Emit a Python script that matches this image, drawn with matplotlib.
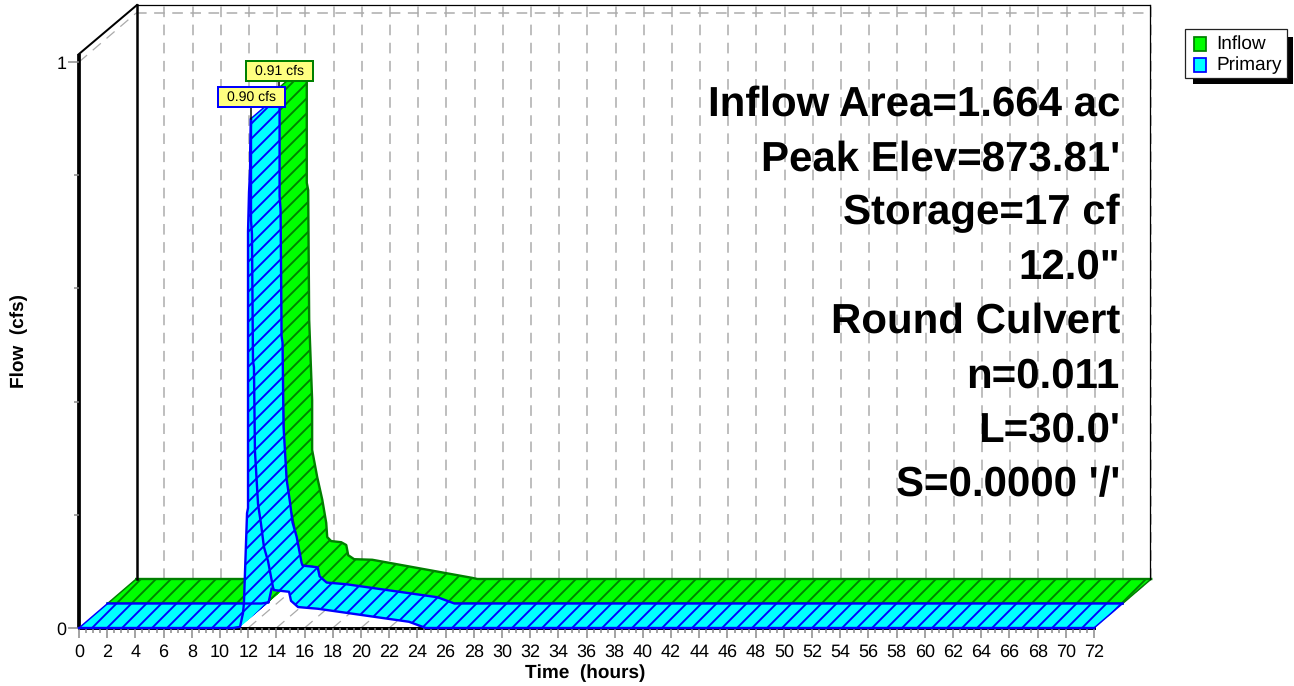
import matplotlib
matplotlib.use('Agg')
import matplotlib.pyplot as plt
from matplotlib.path import Path
from matplotlib.patches import PathPatch, Rectangle
from matplotlib.transforms import Affine2D
from matplotlib.lines import Line2D
import numpy as np

# hydrograph values
inflow_t = [0, 10.9, 11.4, 11.6, 11.7, 11.9, 12.0, 12.06, 12.1, 12.1, 12.2, 12.27, 12.48, 12.48, 12.84, 13.2,
            13.48, 13.55, 13.83, 14.54, 14.9, 15.04, 15.46, 16.74, 23.83, 24.2, 72]
inflow_q = [0, 0, 0.002, 0.026, 0.044, 0.2, 0.7, 0.8, 0.91, 0.70, 0.687, 0.458, 0.316, 0.228, 0.18, 0.14,
            0.099, 0.074, 0.067, 0.065, 0.06, 0.042, 0.035, 0.034, 0.002, 0, 0]
primary_t = [0, 10.92, 11.42, 11.63, 11.7, 11.92, 11.99, 11.99, 12.06, 12.13, 12.2, 12.2, 12.27, 12.34, 12.41,
             12.48, 12.7, 12.91, 13.12, 13.41, 13.76, 13.83, 14.9, 15.04, 15.54, 16.95, 23.41, 24.6, 72]
primary_q = [0, 0, 0.002, 0.026, 0.044, 0.203, 0.212, 0.7, 0.77, 0.806, 0.90, 0.72, 0.696, 0.472, 0.461,
             0.313, 0.219, 0.184, 0.143, 0.118, 0.072, 0.067, 0.064, 0.048, 0.037, 0.034, 0.011, 0, 0]
inflow_peak = 0.91
primary_peak = 0.90
x_ticks = list(range(0, 73, 2))
info_lines = ["Inflow Area=1.664 ac", "Peak Elev=873.81'", "Storage=17 cf", '12.0"',
              "Round Culvert", "n=0.011", "L=30.0'", "S=0.0000 '/'"]

plt.rcParams['font.family'] = ['Liberation Sans', 'DejaVu Sans']
plt.rcParams['hatch.linewidth'] = 1.5
plt.rcParams['lines.scale_dashes'] = False
plt.rcParams['text.hinting'] = 'none'
plt.rcParams['text.hinting_factor'] = 1

W, H, DPI = 1294, 686, 90
fig = plt.figure(figsize=(W / DPI, H / DPI), dpi=DPI)
ax = fig.add_axes([79 / W, (H - 628) / H, (1094 - 79) / W, (628 - 62) / H])
ax.set_xlim(0, 72)
ax.set_ylim(0, 1)
ax.patch.set_alpha(0)

# pixel coordinates, top-left origin like the picture
px = Affine2D().scale(1, -1).translate(0, H)

# one depth step in data units
dx = 28.6 / (1015 / 72)
dy = 24.5 / 566
GRID = '#aaaaaa'
DASH = (0, (8.5, 6))
TOP = 1.014

# back wall frame and left wall
for x0, y0, x1, y1, lw in [(137, 5, 1150, 5, 1.0), (1150, 5, 1150, 579, 1.0), (137, 5, 137, 579, 2.0),
                           (79, 54, 137, 5, 1.6)]:
    fig.add_artist(Line2D([x0, x1], [y0, y1], transform=px, color='black', lw=lw, zorder=1))
ax.plot([0, 0], [0, TOP], color='black', lw=3.0, clip_on=False, zorder=1.5, solid_capstyle='butt')

# grid on the wall and floor
for t in x_ticks[1:]:
    ax.plot([t + 2 * dx, t + 2 * dx], [2 * dy, TOP + 2 * dy], color=GRID, lw=1.2, ls=DASH, clip_on=False, zorder=1)
    ax.plot([t, t + 2 * dx], [0, 2 * dy], color=GRID, lw=1.0, ls=DASH, clip_on=False, zorder=1)
ax.plot([2 * dx, 72 + 2 * dx], [1 + 2 * dy, 1 + 2 * dy], color=GRID, lw=1.2, ls=DASH, clip_on=False, zorder=1)
ax.plot([0, 2 * dx], [1, 1 + 2 * dy], color=GRID, lw=1.0, ls=DASH, clip_on=False, zorder=1)


def ribbon(t, q, depth, fill, edge, z):
    t = np.array(t, dtype=float)
    q = np.array(q, dtype=float)
    verts, codes = [], []
    fx, fy = t + depth * dx, q + depth * dy
    bx, by = fx + dx, fy + dy
    for i in range(len(t) - 1):
        quad = [(fx[i], fy[i]), (fx[i + 1], fy[i + 1]), (bx[i + 1], by[i + 1]), (bx[i], by[i])]
        xs, ys = zip(*quad)
        area = sum(xs[k] * ys[(k + 1) % 4] - xs[(k + 1) % 4] * ys[k] for k in range(4))
        if area < 0:
            quad = quad[::-1]
        verts += quad + [quad[0]]
        codes += [Path.MOVETO, Path.LINETO, Path.LINETO, Path.LINETO, Path.CLOSEPOLY]
    ax.add_patch(PathPatch(Path(verts, codes), facecolor=fill, edgecolor=edge, hatch='//', lw=0,
                           clip_on=False, zorder=z))
    # outline: whole front curve, back curve without the hidden part of the rise
    pk = int(np.argmax(q))
    ax.plot(fx, fy, color=edge, lw=1.9, clip_on=False, zorder=z + 0.1)
    ax.plot(bx[:4], by[:4], color=edge, lw=1.9, clip_on=False, zorder=z + 0.1)
    ax.plot(bx[pk:], by[pk:], color=edge, lw=1.9, clip_on=False, zorder=z + 0.1)
    for i in (0, pk, len(t) - 1):
        ax.plot([fx[i], bx[i]], [fy[i], by[i]], color=edge, lw=1.2, clip_on=False, zorder=z + 0.1)


ribbon(inflow_t, inflow_q, 1, '#00ff00', '#008000', 3)
ribbon(primary_t, primary_q, 0, '#00ffff', '#0000ff', 4)

# axes
for s in ['top', 'right']:
    ax.spines[s].set_visible(False)
ax.spines['left'].set_visible(False)
ax.spines['bottom'].set_linewidth(2.4)
ax.spines['bottom'].set_zorder(1.5)
ax.set_xticks(x_ticks)
ax.set_xticks(np.arange(0, 72.1, 0.5), minor=True)
ax.set_yticks([0, 1])
ax.set_yticks([0.2, 0.4, 0.6, 0.8], minor=True)
ax.set_yticklabels(['0', '1'])
ax.tick_params(axis='x', which='major', length=8, width=1.2, color='#888888', labelsize=14, pad=15.2)
ax.tick_params(axis='x', which='minor', length=4, width=1.2, color='#888888')
ax.tick_params(axis='y', which='major', length=9, width=1.2, color='#888888', labelsize=14, pad=1)
ax.tick_params(axis='y', which='minor', length=4, width=1.2, color='#888888')
for lab in ax.get_xticklabels():
    lab.set_verticalalignment('baseline')

fig.text(585 / W, 1 - 678 / H, 'Time  (hours)', ha='center', va='baseline', fontsize=14.8, fontweight='bold')
fig.text(19 / W, 1 - 341 / H, 'Flow  (cfs)', ha='center', va='center', rotation=90, fontsize=14.8, fontweight='bold')

# big annotation block
for i, line in enumerate(info_lines):
    fig.text(1120 / W, 1 - (105 + 54.3 * i) / H, line, ha='right', va='center', fontsize=33.6,
             fontweight='bold', color='black', zorder=8)


# peak callouts
def callout(t, q, depth, box, text, edge):
    sx, sy = ax.transData.transform((t + depth * dx, q + depth * dy))
    sy = H - sy
    x0, y0, x1, y1 = box
    fig.add_artist(Line2D([sx, sx], [sy, y1], transform=px, color='black', lw=1.2, zorder=6))
    fig.add_artist(Rectangle((x0, y0), x1 - x0, y1 - y0, transform=px, facecolor='#ffff80', edgecolor=edge,
                             lw=1.6, zorder=7))
    fig.text((x0 + x1) / 2 / W, 1 - (y0 + y1) / 2 / H, text, ha='center', va='center', fontsize=10.8, zorder=8)


callout(12.13, inflow_peak, 1, (246, 61, 313, 81), f'{inflow_peak:.2f} cfs', '#008000')
callout(12.2, primary_peak, 0, (218, 87, 285, 107), f'{primary_peak:.2f} cfs', '#0000ff')

# legend with hard shadow
fig.add_artist(Rectangle((1193, 37), 100, 47, transform=px, facecolor='black', edgecolor='black', lw=0, zorder=6))
fig.add_artist(Rectangle((1185, 29), 102, 49, transform=px, facecolor='white', edgecolor='#222222', lw=1.0, zorder=7))
for y, name, fill, edge in [(44, 'Inflow', '#00ff00', '#008000'), (65, 'Primary', '#00ffff', '#0000ff')]:
    fig.add_artist(Rectangle((1194, y - 7), 12, 14, transform=px, facecolor=fill, edgecolor=edge, lw=1.4, zorder=8))
    fig.text(1216 / W, 1 - y / H, name, ha='left', va='center', fontsize=15.3, zorder=8)

fig.savefig('out.png', dpi=DPI)
